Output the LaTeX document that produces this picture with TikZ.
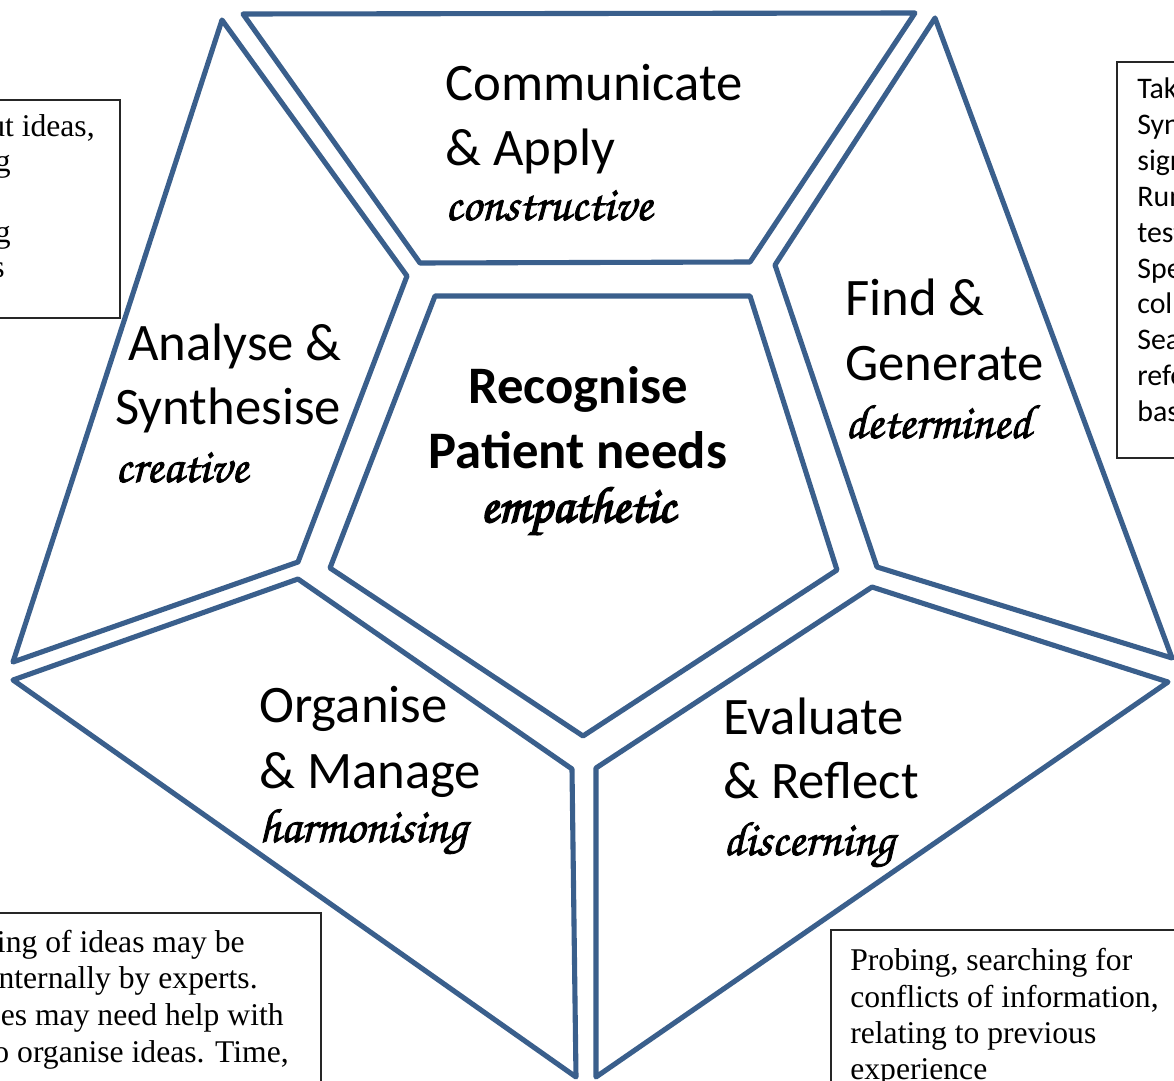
\documentclass[tikz,border=0pt]{standalone}
\usepackage[T1,TU]{fontenc}
\usepackage{fontspec}
\setmainfont{Liberation Serif}
\newfontfamily\calfam{Carlito}
\newcommand\scrfont{\fontencoding{T1}\fontfamily{pzc}\fontseries{m}\fontshape{it}\selectfont}
\newcommand\heavy[2]{\special{pdf:literal q 2 Tr #1 w}#2\special{pdf:literal Q}}
\definecolor{petblue}{RGB}{58,95,140}
\begin{document}
\begin{tikzpicture}[x=0.02cm,y=-0.02cm,
  piece/.style={draw=petblue,line width=2.9pt,line join=round},
  note/.style={draw=black!85,line width=0.6pt},
  big/.style={font=\calfam\fontsize{30}{36}\selectfont,anchor=base west,inner sep=0pt},
  bigb/.style={font=\calfam\bfseries\fontsize{30}{36}\selectfont,anchor=base,inner sep=0pt},
  scr/.style={font=\scrfont\fontsize{27.5}{30}\selectfont,anchor=base west,inner sep=0pt},
  serif/.style={font=\fontsize{18}{21}\selectfont,inner sep=0pt},
  sans/.style={font=\calfam\fontsize{17}{20}\selectfont,anchor=base west,inner sep=0pt}]
\useasboundingbox[fill=white] (0,0) rectangle (1174,1081);
\begin{scope}
\clip (0,0) rectangle (1174,1081);
% note boxes
\draw[note] (-20,100) rectangle (120,318);
\draw[note] (1117,62) rectangle (1200,458);
\draw[note] (-20,913) rectangle (321,1100);
\draw[note] (831,930) rectangle (1200,1100);
% pieces
\draw[piece] (243,14) -- (915,13) -- (750,262) -- (420,263) -- cycle;
\draw[piece] (435,296) -- (750,296) -- (837,570) -- (583,736) -- (330,568) -- cycle;
\draw[piece] (222,20) -- (407,276) -- (298,562) -- (13,662) -- cycle;
\draw[piece] (935,18) -- (1172,658) -- (877,567) -- (775,265) -- cycle;
\draw[piece] (13,680) -- (298,579) -- (572,769) -- (576,1077) -- cycle;
\draw[piece] (1168,682) -- (872,587) -- (596,768) -- (596,1077) -- cycle;
\end{scope}
% piece labels
\node[big] (c1) at (445,101) {Communicate};
\node[big] (c2) at (445,166) {\& Apply};
\node[scr] (c3) at (445,220) {\heavy{0.45}{constructive}};
\node[big] (a1) at (128,360) {Analyse \&};
\node[big] (a2) at (115,424) {Synthesise};
\node[scr] (a3) at (115,482) {\heavy{0.45}{creative}};
\node[big] (f1) at (845,316) {Find \&};
\node[big] (f2) at (845,380) {Generate};
\node[scr] (f3) at (845,438) {\heavy{0.45}{determined}};
\node[big] (o1) at (259,722) {Organise};
\node[big] (o2) at (259,788) {\& Manage};
\node[scr] (o3) at (259,842) {\heavy{0.45}{harmonising}};
\node[big] (e1) at (723,734) {Evaluate};
\node[big] (e2) at (723,798) {\& Reflect};
\node[scr] (e3) at (723,855) {\heavy{0.45}{discerning}};
\node[bigb] (r1) at (578,403) {Recognise};
\node[bigb] (r2) at (578,468) {Patient needs};
\node[scr,anchor=base,font=\scrfont\fontsize{29}{30}\selectfont] (r3) at (578,522) {\heavy{1.0}{empathetic}};
% note texts (clipped fragments)
\node[serif,anchor=base east] (l1) at (95,137) {ut ideas,};
\node[serif,anchor=base east] (l2) at (11,172) {g};
\node[serif,anchor=base east] (l3) at (11,243) {g};
\node[serif,anchor=base east] (l4) at (5,278) {s};
\node[sans] (t1) at (1137,99) {Tak};
\node[sans] (t2) at (1137,135) {Syn};
\node[sans] (t3) at (1137,171) {sign};
\node[sans] (t4) at (1137,207) {Run};
\node[sans] (t5) at (1137,243) {test};
\node[sans] (t6) at (1137,279) {Spe};
\node[sans] (t7) at (1137,314) {coll};
\node[sans] (t8) at (1137,350) {Sea};
\node[sans] (t9) at (1137,386) {refe};
\node[sans] (t10) at (1137,421) {bas};
\node[serif,anchor=base east] (b1) at (245,952) {ing of ideas may be};
\node[serif,anchor=base east] (b2) at (258,988) {nternally by experts.};
\node[serif,anchor=base east] (b3) at (284,1025) {es may need help with};
\node[serif,anchor=base east] (b4) at (289,1062) {o organise ideas. Time,};
\node[serif,anchor=base west] (p1) at (850,970) {Probing, searching for};
\node[serif,anchor=base west] (p2) at (850,1007) {conflicts of information,};
\node[serif,anchor=base west] (p3) at (850,1043) {relating to previous};
\node[serif,anchor=base west] (p4) at (850,1079) {experience};
\end{tikzpicture}
\end{document}
